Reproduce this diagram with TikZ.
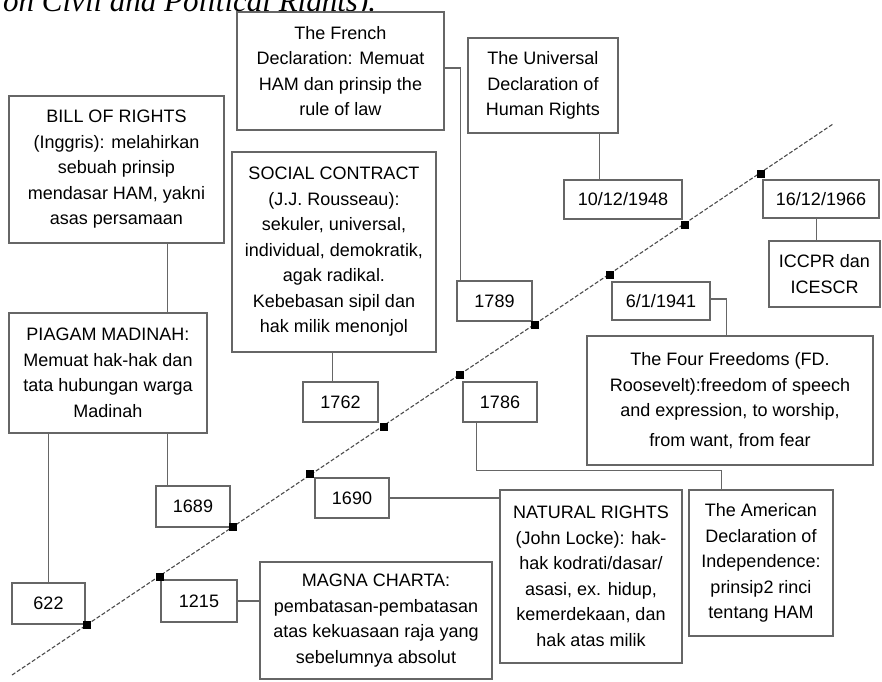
\documentclass[tikz,border=0pt]{standalone}
\usepackage{fontspec}
\setmainfont{Liberation Sans}
\newfontfamily\hdrfont{Liberation Serif}
\usetikzlibrary{calc,backgrounds}
\newcommand\bxfont{\fontsize{18}{25.5}\selectfont}
\tikzset{
  box/.style={draw=black!60, line width=1.2pt, fill=white, align=center,
    inner sep=0pt, font=\bxfont, text=black},
  datebox/.style={box},
  mk/.style={fill=black, draw=none, minimum size=8pt, inner sep=0pt},
  conn/.style={draw=black!60, line width=1.2pt},
  tline/.style={draw=black!70, line width=1.1pt, dash pattern=on 4pt off 2pt}
}
\begin{document}
\begin{tikzpicture}[x=1pt,y=-1pt]
\useasboundingbox (0,0) rectangle (882,681);
% clipped header text from surrounding document
\begin{scope}
  \clip (0,0) rectangle (882,681);
  \node[anchor=base west, inner sep=0pt, font=\hdrfont\itshape\fontsize{31}{33}\selectfont] (hdr) at (3,11.5) {on Civil and Political Rights).};
\end{scope}

% description boxes
\node[box, minimum width=207, minimum height=118] (fr) at (340.5,71) {The French\\Declaration: Memuat\\HAM dan prinsip the\\rule of law};
\node[box, minimum width=150, minimum height=95] (un) at (543,85.5) {The Universal\\Declaration of\\Human Rights};
\node[box, minimum width=215, minimum height=147] (bill) at (116.5,169.5) {BILL OF RIGHTS\\(Inggris): melahirkan\\sebuah prinsip\\mendasar HAM, yakni\\asas persamaan};
\node[box, minimum width=204, minimum height=200] (soc) at (334,252) {SOCIAL CONTRACT\\(J.J. Rousseau):\\sekuler, universal,\\individual, demokratik,\\agak radikal.\\Kebebasan sipil dan\\hak milik menonjol};
\node[box, minimum width=198, minimum height=120] (piag) at (108,373) {PIAGAM MADINAH:\\Memuat hak-hak dan\\tata hubungan warga\\Madinah};
\node[box, minimum width=286, minimum height=129] (ff) at (730,400.5) {The Four Freedoms (FD.\\Roosevelt):freedom of speech\\and expression, to worship,\\[4pt]from want, from fear};
\node[box, minimum width=111, minimum height=66] (icc) at (824.5,274) {ICCPR dan\\ICESCR};
\node[box, minimum width=182, minimum height=173] (nat) at (591,576.5) {NATURAL RIGHTS\\(John Locke): hak-\\hak kodrati/dasar/\\asasi, ex. hidup,\\kemerdekaan, dan\\hak atas milik};
\node[box, minimum width=144, minimum height=146] (am) at (761,563) {The American\\Declaration of\\Independence:\\prinsip2 rinci\\tentang HAM};
\node[box, minimum width=232, minimum height=117] (mag) at (376,620.5) {MAGNA CHARTA:\\pembatasan-pembatasan\\atas kekuasaan raja yang\\sebelumnya absolut};

% date boxes
\node[datebox, minimum width=73, minimum height=41] (d622) at (48.5,603.5) {622};
\node[datebox, minimum width=76, minimum height=42] (d1215) at (199,601) {1215};
\node[datebox, minimum width=74, minimum height=41] (d1689) at (193,506.5) {1689};
\node[datebox, minimum width=74, minimum height=40] (d1690) at (352,498) {1690};
\node[datebox, minimum width=75, minimum height=40] (d1762) at (340.5,402) {1762};
\node[datebox, minimum width=74, minimum height=40] (d1786) at (500,402) {1786};
\node[datebox, minimum width=75, minimum height=40] (d1789) at (494.5,301) {1789};
\node[datebox, minimum width=98, minimum height=38] (d1941) at (661,301) {6/1/1941};
\node[datebox, minimum width=118, minimum height=39] (d1948) at (623,199.5) {10/12/1948};
\node[datebox, minimum width=116, minimum height=38] (d1966) at (821,199) {16/12/1966};

% markers on the timeline
\node[mk] (m622) at (87,625) {};
\node[mk] (m1215) at (160,577) {};
\node[mk] (m1689) at (233,527) {};
\node[mk] (m1690) at (310,474) {};
\node[mk] (m1762) at (384,427) {};
\node[mk] (m1786) at (460,375) {};
\node[mk] (m1789) at (535,325) {};
\node[mk] (m1941) at (610,275) {};
\node[mk] (m1948) at (685,225) {};
\node[mk] (m1966) at (761,174) {};

\begin{pgfonlayer}{background}
  \fill[white] (0,0) rectangle (882,681);
  % timeline
  \coordinate (tl0) at (12,675);
  \coordinate (tl1) at (833,124);
  \draw[tline] (tl0) -- (tl1);
  % connectors
  \coordinate (c1) at ($(piag.south west)+(40,0)$);
  \draw[conn] (c1) -- (c1 |- d622.north);
  \coordinate (c2) at ($(bill.south west)+(159,0)$);
  \draw[conn] (c2) -- (c2 |- d1689.north);
  \draw[conn] (d1215.east) -- (d1215.east -| mag.west);
  \draw[conn] (d1690.east) -- (d1690.east -| nat.west);
  \coordinate (c5) at ($(d1762.north west)+(30,0)$);
  \draw[conn] (c5) -- (c5 |- soc.south);
  \coordinate (c6a) at ($(d1786.south west)+(14,0)$);
  \coordinate (c6b) at ($(am.north west)+(33,0)$);
  \draw[conn] (c6a) |- ($(c6b)+(0,-19)$) -- (c6b);
  \coordinate (c7) at ($(d1789.north west)+(4,0)$);
  \draw[conn] (c7) |- ($(fr.east)+(0,-3)$);
  \coordinate (c8) at ($(d1948.north west)+(36,0)$);
  \draw[conn] (c8) -- (c8 |- un.south);
  \coordinate (c9) at ($(d1966.south west)+(54,0)$);
  \draw[conn] (c9) -- (c9 |- icc.north);
  \coordinate (c10) at ($(ff.north west)+(140,0)$);
  \draw[conn] ($(d1941.east)+(0,-2)$) -| (c10);
\end{pgfonlayer}
\end{tikzpicture}
\end{document}
